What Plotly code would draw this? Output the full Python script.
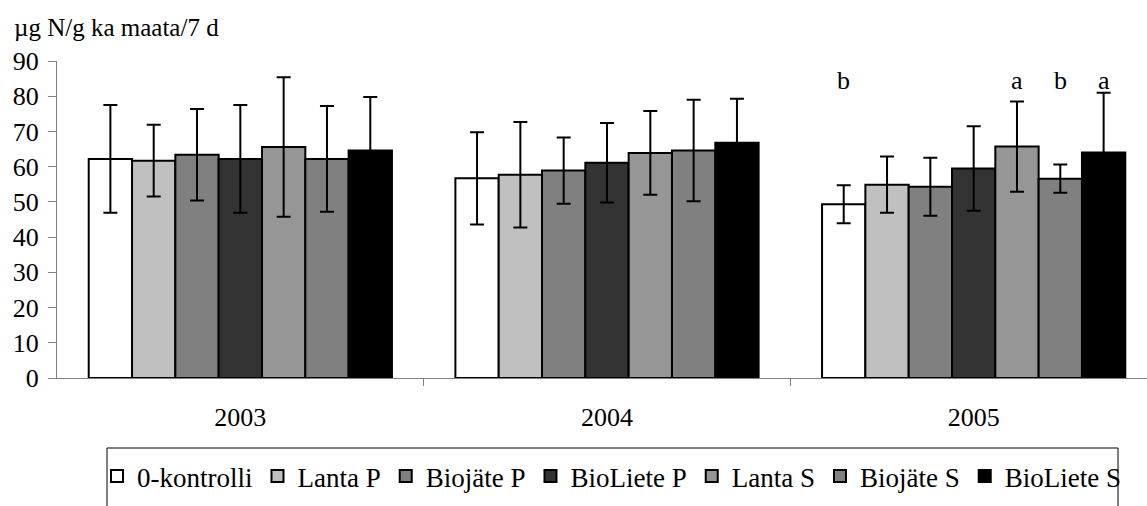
import plotly.graph_objects as go

years = ["2003", "2004", "2005"]
series = ["0-kontrolli", "Lanta P", "Biojäte P", "BioLiete P", "Lanta S", "Biojäte S", "BioLiete S"]
colors = ["#FFFFFF", "#C0C0C0", "#808080", "#333333", "#969696", "#808080", "#000000"]

v_0k = [62.2, 56.7, 49.3]
v_lantaP = [61.7, 57.7, 54.9]
v_biojP = [63.4, 58.9, 54.3]
v_bioliP = [62.2, 61.1, 59.5]
v_lantaS = [65.6, 63.9, 65.7]
v_biojS = [62.2, 64.6, 56.6]
v_bioliS = [64.6, 66.8, 64.0]

e_0k = [15.3, 13.1, 5.4]
e_lantaP = [10.2, 15.0, 8.0]
e_biojP = [13.0, 9.4, 8.2]
e_bioliP = [15.3, 11.3, 12.0]
e_lantaS = [19.8, 11.9, 12.8]
e_biojS = [15.0, 14.4, 4.0]
e_bioliS = [15.2, 12.5, 17.0]

values = [v_0k, v_lantaP, v_biojP, v_bioliP, v_lantaS, v_biojS, v_bioliS]
errors = [e_0k, e_lantaP, e_biojP, e_bioliP, e_lantaS, e_biojS, e_bioliS]

# significance letters for 2005 (series index -> letter)
letters_2005 = {0: "b", 4: "a", 5: "b", 6: "a"}
letter_level = 84.5

FONT = "Liberation Serif"
xpos = list(range(len(years)))
bargap = 0.173

fig = go.Figure()
for name, col, vals, errs in zip(series, colors, values, errors):
    fig.add_trace(go.Bar(
        x=xpos, y=vals, name=name,
        marker=dict(color=col, line=dict(color="#000000", width=2)),
        error_y=dict(type="data", array=errs, visible=True, color="#000000",
                     thickness=2, width=7),
    ))

n = len(series)
bw = (1 - bargap) / n
for i, letter in letters_2005.items():
    fig.add_annotation(x=2 + (i - (n - 1) / 2) * bw, y=letter_level, text=letter,
                       showarrow=False, font=dict(family=FONT, size=26, color="#000"),
                       xanchor="center", yanchor="middle")

fig.add_annotation(xref="paper", yref="paper", x=(12 - 57) / 1090, y=(378 - 27) / 317,
                   text="µg N/g ka maata/7 d", showarrow=False, xanchor="left",
                   yanchor="middle", font=dict(family=FONT, size=25, color="#000"))

# legend frame (cut by the bottom edge in the original)
fig.add_shape(type="rect", xref="paper", yref="paper",
              x0=(107 - 57) / 1090, x1=(1118 - 57) / 1090,
              y0=(378 - 448) / 317, y1=(378 - 540) / 317,
              line=dict(color="#000000", width=1), fillcolor="rgba(0,0,0,0)", layer="below")

fig.update_layout(
    width=1147, height=506,
    margin=dict(l=57, r=0, t=61, b=128),
    paper_bgcolor="white", plot_bgcolor="white",
    barmode="group", bargap=bargap, bargroupgap=0,
    font=dict(family=FONT, size=24, color="#000"),
    showlegend=True,
    legend=dict(orientation="h", x=(97 - 57) / 1090, xanchor="left",
                y=(378 - 452) / 317, yanchor="top",
                font=dict(family=FONT, size=27, color="#000"),
                itemwidth=30, tracegroupgap=0, bgcolor="rgba(0,0,0,0)"),
)
fig.update_xaxes(
    range=[-0.5, 2.5 - 10 / 366.7], tickvals=xpos, ticktext=years,
    ticks="", showline=True, linecolor="#808080", linewidth=1,
    showgrid=False, zeroline=False, ticklabelstandoff=16,
    tickfont=dict(family=FONT, size=26, color="#000"),
    minor=dict(tickvals=[0.5, 1.5, 2.5], ticks="outside", ticklen=7,
               tickcolor="#808080", tickwidth=1, showgrid=False),
)
fig.update_yaxes(
    range=[0, 90], dtick=10, ticks="outside", ticklen=8, tickcolor="#808080",
    showline=True, linecolor="#808080", linewidth=1, showgrid=False, zeroline=False,
    ticklabelstandoff=4,
    tickfont=dict(family=FONT, size=26, color="#000"),
)

fig.write_html("out.html", config={"displayModeBar": False},
               post_script="document.body.style.margin='0';document.body.style.overflow='hidden';")
